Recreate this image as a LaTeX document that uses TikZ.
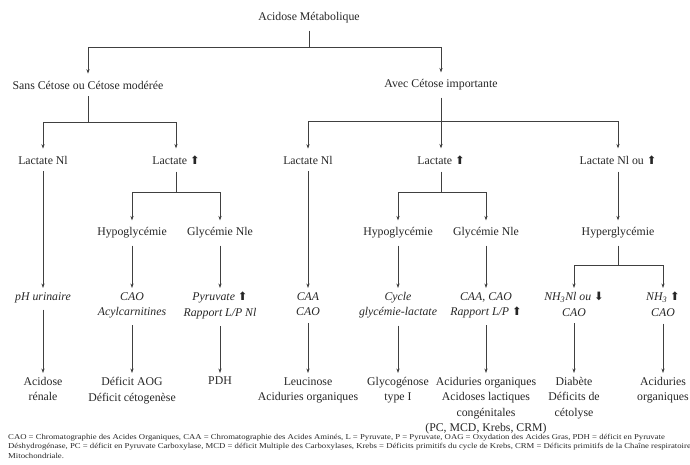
\documentclass[tikz,border=0pt]{standalone}
\usepackage{fontspec}
\setmainfont{Liberation Serif}
\newfontfamily\symf{DejaVu Sans}
\newfontfamily\footf[FakeStretch=1.16]{Liberation Serif}
\usetikzlibrary{arrows.meta}
\newcommand\myup{{\symf\fontsize{11.5}{11.5}\selectfont ⬆}}
\newcommand\mydown{{\symf\fontsize{11.5}{11.5}\selectfont ⬇}}
\begin{document}
\begin{tikzpicture}[x=1pt,y=-1pt,
  every node/.style={inner sep=2pt, font=\fontsize{11.8}{15.5}\selectfont, align=center, text=black!85},
  row3/.style={anchor=north},
  ln/.style={draw=black!75, line width=0.7pt},
  arrA/.style={ln, -{Stealth[length=4.5pt,width=3.2pt]}, shorten >=5pt},
  arrB/.style={ln, -{Stealth[length=4.5pt,width=3.2pt]}, shorten >=2pt, shorten <=5pt},
  stem/.style={ln, shorten <=5pt}]
\useasboundingbox (0,0) rectangle (690,465);
\clip (0,0) rectangle (690,465);
% level 0-1
\node (root) at (309,18) {Acidose Métabolique};
\node (sans) at (88,85) {Sans Cétose ou Cétose modérée};
\node (avec) at (441,85) {Avec Cétose importante};
% level 2
\node (la1) at (43,160) {Lactate Nl};
\node (la2) at (176,160) {Lactate \myup};
\node (la3) at (308,160) {Lactate Nl};
\node (la4) at (441,160) {Lactate \myup};
\node (la5) at (618,160) {Lactate Nl ou \myup};
% level 3
\node (hy1) at (132,233) {Hypoglycémie};
\node (gl1) at (220,233) {Glycémie Nle};
\node (hy2) at (398,233) {Hypoglycémie};
\node (gl2) at (486,233) {Glycémie Nle};
\node (hyper) at (618,233) {Hyperglycémie};
% level 4
\node[row3] (ph) at (43,290) {\textit{pH urinaire}};
\node[row3] (cao1) at (132,290) {\textit{CAO}\\\textit{Acylcarnitines}};
\node[row3] (pyr) at (220,290) {\textit{Pyruvate} \myup\\\textit{Rapport L/P Nl}};
\node[row3] (caa) at (308,290) {\textit{CAA}\\\textit{CAO}};
\node[row3] (cyc) at (398,290) {\textit{Cycle}\\\textit{glycémie-lactate}};
\node[row3] (caa2) at (486,290) {\textit{CAA, CAO}\\\textit{Rapport L/P} \myup};
\node[row3] (nh1) at (574,290) {\textit{NH\textsubscript{3}Nl ou} \mydown\\\textit{CAO}};
\node[row3] (nh2) at (663,290) {\textit{NH\textsubscript{3}} \myup\\\textit{CAO}};
% level 5
\node[row3] (ren) at (43,375) {Acidose\\rénale};
\node[row3] (aog) at (132,375) {Déficit AOG\\Déficit cétogenèse};
\node[row3] (pdh) at (220,375) {PDH};
\node[row3] (leu) at (308,375) {Leucinose\\Aciduries organiques};
\node[row3] (gsd) at (398,375) {Glycogénose\\type I};
\node[row3] (aci) at (486,375) {Aciduries organiques\\Acidoses lactiques\\congénitales\\(PC, MCD, Krebs, CRM)};
\node[row3] (dia) at (574,375) {Diabète\\Déficits de\\cétolyse};
\node[row3] (aci2) at (663,375) {Aciduries\\organiques};
% footer
\node[anchor=north west, inner sep=0, align=left, font=\footf\fontsize{7.5}{9.5}\selectfont] (foot) at (8,434)
 {CAO = Chromatographie des Acides Organiques, CAA = Chromatographie des Acides Aminés, L = Pyruvate, P = Pyruvate, OAG = Oxydation des Acides Gras, PDH = déficit en Pyruvate\\
  Déshydrogénase, PC = déficit en Pyruvate Carboxylase, MCD = déficit Multiple des Carboxylases, Krebs = Déficits primitifs du cycle de Krebs, CRM = Déficits primitifs de la Chaîne respiratoire\\
  Mitochondriale.};
% connectors
\draw[stem] (root.south) -- (root.south |- 0,47) coordinate (j0);
\draw[arrA] (j0) -| (sans.north);
\draw[arrA] (j0) -| (avec.north);
\draw[stem] (sans.south) -- (sans.south |- 0,122) coordinate (j1);
\draw[arrA] (j1) -| (la1.north);
\draw[arrA] (j1) -| (la2.north);
\draw[stem] (avec.south) -- (avec.south |- 0,121) coordinate (j2);
\draw[arrA] (j2) -| (la3.north);
\draw[arrA] (j2) -- (la4.north);
\draw[arrA] (j2) -| (la5.north);
\draw[arrB] (la1.south) -- (ph.north);
\draw[stem] (la2.south) -- (la2.south |- 0,192) coordinate (j3);
\draw[arrA] (j3) -| (hy1.north);
\draw[arrA] (j3) -| (gl1.north);
\draw[arrB] (la3.south) -- (caa.north);
\draw[stem] (la4.south) -- (la4.south |- 0,192) coordinate (j4);
\draw[arrA] (j4) -| (hy2.north);
\draw[arrA] (j4) -| (gl2.north);
\draw[arrA, shorten <=5pt] (la5.south) -- (hyper.north);
\draw[arrB] (hy1.south) -- (cao1.north);
\draw[arrB] (gl1.south) -- (pyr.north);
\draw[arrB] (hy2.south) -- (cyc.north);
\draw[arrB] (gl2.south) -- (caa2.north);
\draw[stem] (hyper.south) -- (hyper.south |- 0,265) coordinate (j5);
\draw[arrB, shorten <=0pt] (j5) -| (nh1.north);
\draw[arrB, shorten <=0pt] (j5) -| (nh2.north);
\draw[arrB] (ph.south) -- (ren.north);
\draw[arrB] (cao1.south) -- (aog.north);
\draw[arrB] (pyr.south) -- (pdh.north);
\draw[arrB] (caa.south) -- (leu.north);
\draw[arrB] (cyc.south) -- (gsd.north);
\draw[arrB] (caa2.south) -- (aci.north);
\draw[arrB] (nh1.south) -- (dia.north);
\draw[arrB] (nh2.south) -- (aci2.north);
\end{tikzpicture}
\end{document}
